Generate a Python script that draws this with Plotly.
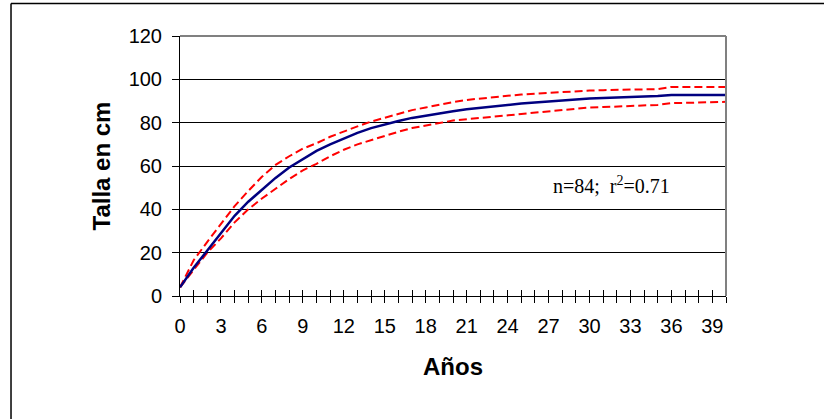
import plotly.graph_objects as go

years = list(range(0, 41))
talla = [4, 13, 21, 29, 37, 43.5, 49, 54.5, 59.3, 63.3, 67, 70, 72.8, 75.3, 77.5, 79.3,
         80.8, 82.2, 83.3, 84.4, 85.3, 86.2, 86.9, 87.5, 88.2, 88.8, 89.3, 89.8, 90,
         90.5, 91.2, 91.4, 91.6, 91.8, 92, 92.3, 92.8, 92.8, 92.8, 92.8, 92.8]
upper = [4, 16.5, 25, 33.5, 41.5, 48.5, 55, 60.5, 64.5, 68, 70.5, 73.5, 76, 78.3, 80.5,
         82.3, 84.2, 85.8, 87, 88.3, 89.5, 90.5, 91.2, 91.8, 92.4, 93, 93.4, 93.8, 94.2,
         94.6, 94.8, 95, 95.1, 95.2, 95.3, 95.5, 96.5, 96.5, 96.5, 96.5, 96.5]
lower = [4, 12, 20, 26.6, 34, 40, 45, 49.5, 54, 58, 61, 64.5, 67.5, 70, 72, 74, 75.8,
         77.5, 78.5, 79.8, 81, 81.6, 82.3, 83, 83.6, 84.2, 84.8, 85.3, 85.8, 86.4, 87,
         87.2, 87.5, 87.7, 87.9, 88.2, 89, 89.1, 89.2, 89.4, 89.6]
xtick_vals = list(range(0, 40, 3))
ytick_vals = [0, 20, 40, 60, 80, 100, 120]

fig = go.Figure()
fig.add_trace(go.Scatter(x=years, y=upper, mode="lines",
                         line=dict(color="#FF0000", width=2, dash="8px,4px"), hoverinfo="skip"))
fig.add_trace(go.Scatter(x=years, y=lower, mode="lines",
                         line=dict(color="#FF0000", width=2, dash="8px,4px"), hoverinfo="skip"))
fig.add_trace(go.Scatter(x=years, y=talla, mode="lines",
                         line=dict(color="#000080", width=2.5)))
fig.add_trace(go.Scatter(x=[0], y=[0], xaxis="x2", mode="markers",
                         marker=dict(opacity=0), hoverinfo="skip"))

font_sans = "Liberation Sans, Arial, sans-serif"
fig.update_layout(
    width=824, height=419,
    margin=dict(l=180, r=98, t=36, b=123),
    paper_bgcolor="white", plot_bgcolor="white",
    showlegend=False,
    font=dict(family=font_sans, color="black"),
    xaxis=dict(range=[0, 40], tickmode="array", tickvals=xtick_vals,
               ticks="outside", ticklen=6, tickcolor="black", tickwidth=1,
               minor=dict(tickmode="array", tickvals=years, ticks="outside", ticklen=6,
                          tickcolor="black", tickwidth=1, showgrid=False),
               showgrid=False, zeroline=False, showline=True, linecolor="black", linewidth=1,
               tickfont=dict(size=20, family=font_sans), ticklabelstandoff=6,
               title=dict(text="<b>Años</b>", font=dict(size=24, family=font_sans), standoff=22)),
    xaxis2=dict(range=[0, 40], overlaying="x", side="bottom", tickmode="array", tickvals=years,
                ticks="inside", ticklen=6, tickcolor="black", tickwidth=1,
                showticklabels=False, showgrid=False, zeroline=False, showline=False),
    yaxis=dict(range=[0, 120], tickmode="array", tickvals=ytick_vals,
               ticks="outside", ticklen=7, tickcolor="black", tickwidth=1,
               showgrid=True, gridcolor="black", gridwidth=1, zeroline=False,
               showline=True, linecolor="black", linewidth=1,
               tickfont=dict(size=20, family=font_sans), ticklabelstandoff=6,
               title=dict(text="<b>Talla en cm</b>", font=dict(size=24, family=font_sans), standoff=11)),
    annotations=[dict(x=27.2, y=51.2, xref="x", yref="y", xanchor="left", yanchor="middle",
                      text="n=84;  r<sup>2</sup>=0.71", showarrow=False,
                      font=dict(family="Liberation Serif, Times New Roman, serif", size=20, color="black"))],
    shapes=[
        dict(type="line", xref="paper", yref="paper", x0=0, x1=1, y0=1, y1=1,
             line=dict(color="#808080", width=2), layer="above"),
        dict(type="line", xref="paper", yref="paper", x0=1, x1=1, y0=0, y1=1,
             line=dict(color="#808080", width=2), layer="above"),
        dict(type="line", xref="paper", yref="paper", x0=-0.3095, x1=1.6, y0=1.125, y1=1.125,
             line=dict(color="black", width=1.5), layer="above"),
        dict(type="line", xref="paper", yref="paper", x0=-0.3095, x1=-0.3095, y0=-0.6, y1=1.125,
             line=dict(color="black", width=1.5), layer="above"),
    ],
)

fig.write_html("out.html", config={"displayModeBar": False},
               post_script="document.body.style.margin='0';document.body.style.padding='0';")
